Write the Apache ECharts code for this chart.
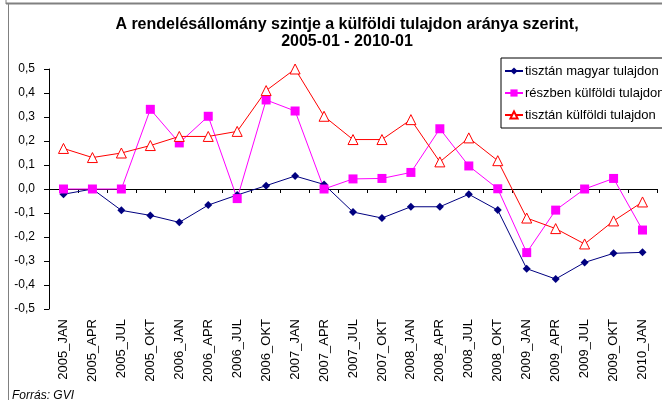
<!DOCTYPE html>
<html>
<head>
<meta charset="utf-8">
<script src="https://cdn.jsdelivr.net/npm/echarts@6/dist/echarts.min.js"></script>
<style>
  html, body { margin: 0; padding: 0; background: #fff; }
  #chart { width: 662px; height: 400px; }
</style>
</head>
<body>
<div id="chart"></div>
<script>
// negyedéves időpontok
const categories = [
  '2005_JAN', '2005_APR', '2005_JUL', '2005_OKT',
  '2006_JAN', '2006_APR', '2006_JUL', '2006_OKT',
  '2007_JAN', '2007_APR', '2007_JUL', '2007_OKT',
  '2008_JAN', '2008_APR', '2008_JUL', '2008_OKT',
  '2009_JAN', '2009_APR', '2009_JUL', '2009_OKT',
  '2010_JAN'
]

const magyar = [
  -0.022, 0.0, -0.089, -0.11, -0.139, -0.067, -0.025, 0.014, 0.054, 0.019,
  -0.096, -0.121, -0.074, -0.074, -0.022, -0.088, -0.332, -0.375, -0.306, -0.268,
  -0.264
]
const reszben = [
  0.0, 0.0, 0.0, 0.332, 0.192, 0.303, -0.04, 0.371, 0.325, 0.0,
  0.042, 0.044, 0.069, 0.251, 0.096, 0.001, -0.265, -0.088, 0.0, 0.044,
  -0.171
]
const kulfoldi = [
  0.169, 0.131, 0.15, 0.181, 0.219, 0.219, 0.24, 0.41, 0.5, 0.303,
  0.206, 0.206, 0.289, 0.113, 0.213, 0.118, -0.121, -0.165, -0.229, -0.133,
  -0.054
]

const yTicks = { min: -0.5, max: 0.5, interval: 0.1 }

const font = 'Liberation Sans, Arial, sans-serif'

const chart = echarts.init(document.getElementById('chart'), null, { renderer: 'canvas' })

chart.setOption({
  backgroundColor: '#fff',
  animation: false,
  title: {
    text: 'A rendelésállomány szintje a külföldi tulajdon aránya szerint,\n2005-01 - 2010-01',
    left: 342,
    top: 11,
    textAlign: 'center',
    textStyle: {
      fontFamily: font,
      fontSize: 16,
      fontWeight: 'bold',
      color: '#000',
      lineHeight: 17
    }
  },
  legend: {
    orient: 'vertical',
    left: 501,
    top: 58,
    padding: [6, 8, 6, 3],
    itemGap: 8,
    itemWidth: 18,
    itemHeight: 9,
    borderColor: '#000',
    borderWidth: 1,
    borderRadius: 0,
    textStyle: { fontFamily: font, fontSize: 13, color: '#000', lineHeight: 14, padding: [0, 0, 0, -3] },
    data: ['tisztán magyar tulajdon', 'részben külföldi tulajdon', 'tisztán külföldi tulajdon']
  },
  grid: {
    left: 49,
    right: 5,
    top: 69,
    bottom: 91
  },
  xAxis: {
    type: 'category',
    data: categories,
    boundaryGap: true,
    axisLine: { lineStyle: { color: '#000', width: 1 } },
    axisTick: { show: true, length: 4, lineStyle: { color: '#000' } },
    axisLabel: {
      rotate: 90,
      margin: 10,
      interval: 0,
      fontFamily: font,
      fontSize: 13,
      color: '#000'
    },
    splitLine: { show: false }
  },
  yAxis: {
    type: 'value',
    min: yTicks.min,
    max: yTicks.max,
    interval: yTicks.interval,
    axisLine: { show: true, lineStyle: { color: '#000', width: 1 } },
    axisTick: { show: true, length: 5, lineStyle: { color: '#000' } },
    axisLabel: {
      margin: 14,
      fontFamily: font,
      fontSize: 12,
      color: '#000',
      formatter: v => v.toFixed(1).replace('.', ',')
    },
    splitLine: { show: false }
  },
  series: [
    {
      name: 'tisztán magyar tulajdon',
      type: 'line',
      data: magyar,
      symbol: 'diamond',
      symbolSize: 8,
      clip: false,
      color: '#000080',
      lineStyle: { width: 1, color: '#000080' },
      itemStyle: { color: '#000080' }
    },
    {
      name: 'részben külföldi tulajdon',
      type: 'line',
      data: reszben,
      symbol: 'rect',
      symbolSize: 9,
      clip: false,
      color: '#ff00ff',
      lineStyle: { width: 1, color: '#ff00ff' },
      itemStyle: { color: '#ff00ff' }
    },
    {
      name: 'tisztán külföldi tulajdon',
      type: 'line',
      data: kulfoldi,
      symbol: 'triangle',
      symbolSize: 10,
      showAllSymbol: true,
      clip: false,
      color: '#ff0000',
      lineStyle: { width: 1, color: '#ff0000' },
      itemStyle: { color: '#fff', borderColor: '#ff0000', borderWidth: 1 }
    }
  ],
  graphic: [
    // keret
    { type: 'line', shape: { x1: 6, y1: 3.5, x2: 662, y2: 3.5 }, style: { stroke: '#808080', lineWidth: 2 } },
    { type: 'line', shape: { x1: 8.5, y1: 4, x2: 8.5, y2: 400 }, style: { stroke: '#808080', lineWidth: 1 } },
    { type: 'line', shape: { x1: 6, y1: 0, x2: 6, y2: 4 }, style: { stroke: '#808080', lineWidth: 1 } },
    {
      type: 'text',
      left: 12,
      top: 390,
      style: { text: 'Forrás: GVI', font: 'italic 12px Liberation Sans, Arial, sans-serif', fill: '#000' }
    }
  ]
})
</script>
</body>
</html>
